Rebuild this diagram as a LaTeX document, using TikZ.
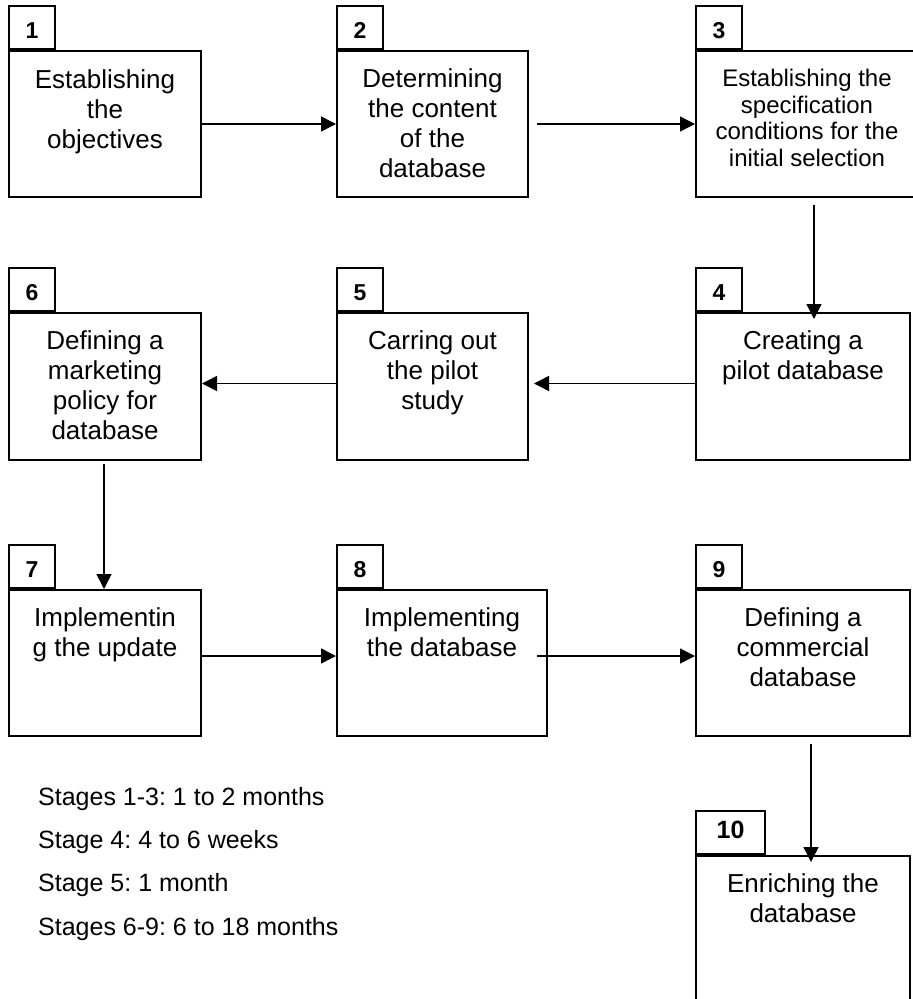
\documentclass[tikz,border=0pt]{standalone}
\usepackage{fontspec}
\setmainfont{Liberation Sans}
\usetikzlibrary{arrows.meta}
\frenchspacing
\begin{document}
\begin{tikzpicture}[x=1pt,y=-1pt,
  box/.style={draw,line width=2pt,inner sep=0pt,anchor=north west},
  tab/.style={draw,line width=2pt,inner sep=0pt,anchor=south west,minimum width=46pt,minimum height=43pt},
  num/.style={font=\fontsize{23}{24}\selectfont\bfseries,anchor=base,inner sep=0pt},
  txt/.style={font=\fontsize{26}{30}\selectfont,align=center,anchor=north,inner sep=0pt},
  leg/.style={font=\fontsize{25}{30}\selectfont,anchor=base west,inner sep=0pt},
  arr/.style={line width=1.5pt,-{Triangle[length=15pt,width=15pt]}},
]
\useasboundingbox (0,0) rectangle (913,999);

% row 1
\node[box,minimum width=192pt,minimum height=146pt] (b1) at (8,50) {};
\node[box,minimum width=191pt,minimum height=146pt] (b2) at (336,50) {};
\node[box,minimum width=222pt,minimum height=146pt] (b3) at (695,50) {};
% row 2
\node[box,minimum width=192pt,minimum height=147pt] (b6) at (8,312) {};
\node[box,minimum width=191pt,minimum height=147pt] (b5) at (336,312) {};
\node[box,minimum width=214pt,minimum height=147pt] (b4) at (695,312) {};
% row 3
\node[box,minimum width=192pt,minimum height=146pt] (b7) at (8,589) {};
\node[box,minimum width=210pt,minimum height=146pt] (b8) at (336,589) {};
\node[box,minimum width=214pt,minimum height=146pt] (b9) at (695,589) {};
% last
\node[box,minimum width=214pt,minimum height=160pt] (b10) at (695,855) {};

% tabs
\foreach \i in {1,...,9}{
  \node[tab] (t\i) at (b\i.north west) {};
  \path (t\i.north) ++(0,33) node[num] (n\i) {\i};
}
\node[tab,minimum width=69pt] (t10) at (b10.north west) {};
\path (t10.north) ++(0,28) node[num,font=\fontsize{25}{26}\selectfont\bfseries] (n10) {10};

% texts
\node[txt] (x1) at ([yshift=-19pt]b1.north) {Establishing\\the\\objectives};
\node[txt] (x2) at ([yshift=-18pt]b2.north) {Determining\\the content\\of the\\database};
\node[txt,font=\fontsize{24}{26.5}\selectfont] (x3) at ([yshift=-19pt]b3.north) {Establishing the\\specification\\conditions for the\\initial selection};
\node[txt] (x4) at ([yshift=-18pt]b4.north) {Creating a\\pilot database};
\node[txt] (x5) at ([yshift=-18pt]b5.north) {Carring out\\the pilot\\study};
\node[txt] (x6) at ([yshift=-18pt]b6.north) {Defining a\\marketing\\policy for\\database};
\node[txt] (x7) at ([yshift=-18pt]b7.north) {Implementin\\g the update};
\node[txt] (x8) at ([yshift=-18pt]b8.north) {Implementing\\the database};
\node[txt] (x9) at ([yshift=-18pt]b9.north) {Defining a\\commercial\\database};
\node[txt] (x10) at ([yshift=-18pt]b10.north) {Enriching the\\database};

% arrows
\draw[arr] (b1.east) -- (b2.west);
\draw[arr] ([xshift=8pt]b2.east) -- (b3.west);
\draw[arr] ([shift={(7,7)}]b3.south) -- ([shift={(7,7)}]b3.south |- b4.north);
\draw[arr] ([yshift=3pt]b4.west) -- ([shift={(5,-3)}]b5.east);
\draw[arr] ([yshift=3pt]b5.west) -- ([yshift=3pt]b6.east);
\draw[arr] ([shift={(-1,3)}]b6.south) -- ([xshift=-1pt]b7.north);
\draw[arr] ([yshift=7pt]b7.east) -- ([yshift=7pt]b8.west);
\draw[arr] ([shift={(-11,-7)}]b8.east) -- ([yshift=7pt]b9.west);
\draw[arr] ([shift={(8,7)}]b9.south) -- ([shift={(8,7)}]b9.south |- b10.north);

% legend
\node[leg] (l1) at (38,805) {Stages 1-3: 1 to 2 months};
\node[leg] (l2) at (38,848) {Stage 4: 4 to 6 weeks};
\node[leg] (l3) at (38,891) {Stage 5: 1 month};
\node[leg] (l4) at (38,935) {Stages 6-9: 6 to 18 months};
\end{tikzpicture}
\end{document}
